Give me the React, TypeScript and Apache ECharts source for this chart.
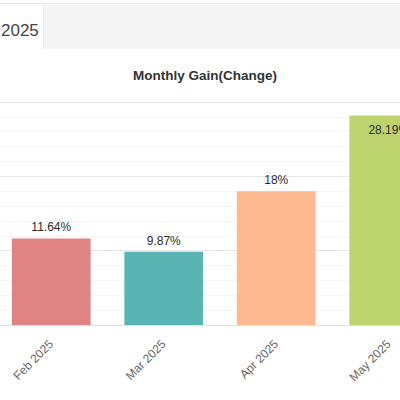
import React, { useEffect, useRef } from "react";
import * as echarts from "echarts";

const categories = ["Feb 2025", "Mar 2025", "Apr 2025", "May 2025"];
const gains = [11.64, 9.87, 18, 28.19];
const labels = ["11.64%", "9.87%", "18%", "28.19%"];
const barColors = ["#E08383", "#5AB4B4", "#FFBA92", "#BDD46E"];
const headerText = "2025";
const titleText = "Monthly Gain(Change)";

const OFFSET = 5; // chart div starts 5px left of the window

export default function App() {
  const ref = useRef<HTMLDivElement>(null);
  useEffect(() => {
    if (!ref.current) return;
    const chart = echarts.init(ref.current, null, { renderer: "svg" });
    const font = "Arial, 'Liberation Sans', Helvetica, sans-serif";
    chart.setOption({
      animation: false,
      backgroundColor: "#ffffff",
      title: {
        text: titleText,
        left: 200 + OFFSET,
        textAlign: "center",
        top: 63,
        textStyle: { fontFamily: font, fontSize: 13.5, fontWeight: "bold", color: "#333333" },
      },
      graphic: [
        { type: "rect", shape: { x: 0, y: 3, width: 460, height: 1 }, style: { fill: "#e6e6e6" }, silent: true },
        { type: "rect", shape: { x: 44 + OFFSET, y: 5, width: 420, height: 44 }, style: { fill: "#f4f4f4" }, silent: true },
        { type: "rect", shape: { x: 43 + OFFSET, y: 5, width: 1, height: 44 }, style: { fill: "#ececec" }, silent: true },
        {
          type: "text",
          x: 1 + OFFSET,
          y: 30,
          style: {
            text: headerText,
            fontFamily: font,
            fontSize: 17,
            fill: "#444444",
            align: "left",
            verticalAlign: "middle",
          },
          silent: true,
        },
      ],
      grid: { left: 0, right: 0, top: 102, bottom: 75, containLabel: false },
      xAxis: {
        type: "category",
        data: categories,
        axisLine: { show: true, lineStyle: { color: "#e0e0e0" } },
        axisTick: { show: false },
        axisLabel: {
          rotate: 45,
          margin: 17,
          fontFamily: font,
          fontSize: 12,
          color: "#666666",
          interval: 0,
        },
      },
      yAxis: {
        type: "value",
        min: 0,
        max: 30,
        interval: 10,
        axisLabel: { show: false },
        axisLine: { show: false },
        axisTick: { show: false },
        splitLine: { show: true, lineStyle: { color: "#e6e6e6" } },
        minorTick: { show: false, splitNumber: 5 },
        minorSplitLine: { show: true, lineStyle: { color: "#f4f4f4" } },
      },
      series: [
        {
          type: "bar",
          barWidth: "70%",
          data: gains.map((v, i) => ({
            value: v,
            itemStyle: { color: barColors[i] },
            label: {
              show: true,
              formatter: labels[i],
              position: i === 3 ? "insideTop" : "top",
              distance: i === 3 ? 9 : 5,
              fontFamily: font,
              fontSize: 12,
              color: "#2b2b2b",
            },
          })),
        },
      ],
    });
    return () => chart.dispose();
  }, []);
  return (
    <div
      ref={ref}
      style={{ position: "fixed", left: -OFFSET, top: 0, width: 450, height: 400 }}
    />
  );
}
